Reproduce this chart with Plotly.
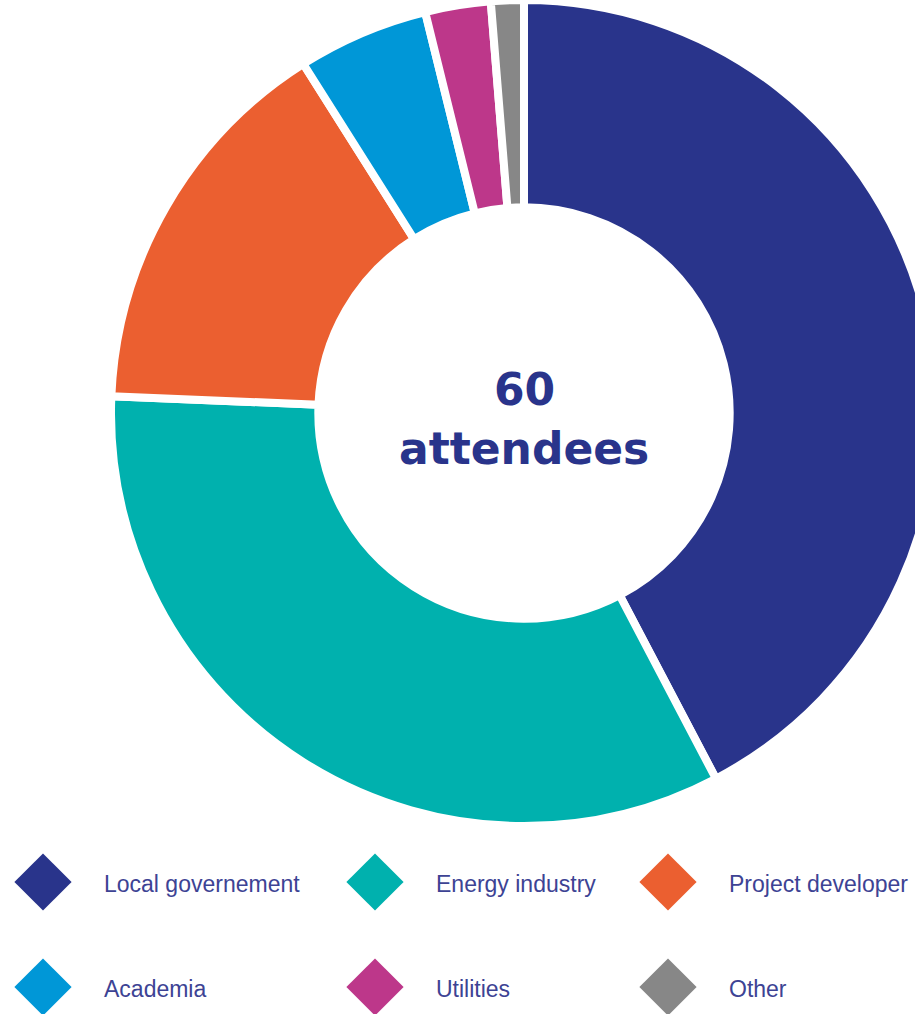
import plotly.graph_objects as go

# Attendee breakdown by sector
categories = ["Local governement", "Energy industry", "Project developer",
              "Academia", "Utilities", "Other"]
attendees = [33, 26, 12, 4, 2, 1]
colors = ["#29348B", "#00B1AE", "#EB5F30", "#0097D7", "#BD378A", "#878787"]
center_lines = ["60", "attendees"]

W, H = 940, 1014
CX, CY, R = 524, 413, 413          # donut centre and radius (px)
TEXT_BLUE = "#29348B"
LEGEND_TEXT = "#3D4394"

fig = go.Figure()

fig.add_trace(go.Pie(
    labels=categories,
    values=attendees,
    marker=dict(colors=colors, line=dict(color="white", width=8)),
    hole=0.498,
    sort=False,
    direction="clockwise",
    rotation=0,
    textinfo="none",
    hoverinfo="label+value",
    showlegend=False,
    domain=dict(x=[(CX - R) / W, (CX + R) / W],
                y=[(H - CY - R) / H, (H - CY + R) / H]),
))

# Diamond legend laid out on a 3-column grid (pixel-unit overlay axes)
col_x = [43, 375, 668]
row_y = [882, 987]
for i, (name, col) in enumerate(zip(categories, colors)):
    x = col_x[i % 3]
    y = row_y[i // 3]
    fig.add_trace(go.Scatter(
        x=[x], y=[y], mode="markers",
        marker=dict(symbol="diamond", size=44, color=col, line=dict(width=0)),
        hoverinfo="skip", showlegend=False,
        xaxis="x", yaxis="y",
    ))
    fig.add_annotation(
        x=x + 59, y=y + 2, xref="x", yref="y",
        text=name, showarrow=False, xanchor="left", yanchor="middle",
        font=dict(family="Liberation Sans, Arial, sans-serif", size=23,
                  color=LEGEND_TEXT),
    )

# Centre label
fig.add_annotation(
    x=CX / W, y=1 - 390 / H, xref="paper", yref="paper",
    text=f"<b>{center_lines[0]}</b>", showarrow=False,
    xanchor="center", yanchor="middle",
    font=dict(family="DejaVu Sans, sans-serif", size=44, color=TEXT_BLUE),
)
fig.add_annotation(
    x=CX / W, y=1 - 448 / H, xref="paper", yref="paper",
    text=f"<b>{center_lines[1]}</b>", showarrow=False,
    xanchor="center", yanchor="middle",
    font=dict(family="DejaVu Sans, sans-serif", size=44, color=TEXT_BLUE),
)

fig.update_layout(
    width=W, height=H,
    margin=dict(l=0, r=0, t=0, b=0),
    paper_bgcolor="white", plot_bgcolor="rgba(0,0,0,0)",
    xaxis=dict(range=[0, W], visible=False, fixedrange=True, domain=[0, 1]),
    yaxis=dict(range=[H, 0], visible=False, fixedrange=True, domain=[0, 1]),
    showlegend=False,
)

fig.write_html(
    "out.html",
    config={"displayModeBar": False},
    post_script="document.body.style.margin='0';document.body.style.overflow='hidden';",
)
